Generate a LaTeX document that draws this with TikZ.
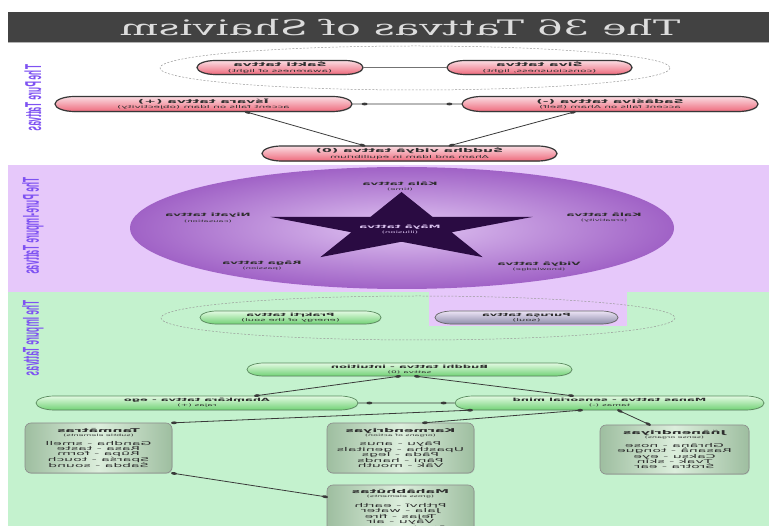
\documentclass[tikz,border=0pt]{standalone}
\usepackage{fontspec}
\usepackage{graphicx}
\usetikzlibrary{shapes.misc,shadows,decorations.markings}

\newfontfamily\nodefont{DejaVu Sans}
\newfontfamily\headfont{DejaVu Serif}
\newfontfamily\sidefont{Liberation Sans}

\definecolor{barbg}{HTML}{424242}
\definecolor{bartext}{HTML}{DCDCDC}
\definecolor{lav}{HTML}{E6C8FA}
\definecolor{mint}{HTML}{C4F2CE}
\definecolor{sidecol}{HTML}{7E52F2}
\definecolor{pinktop}{HTML}{FADCE2}
\definecolor{pinkbot}{HTML}{EE6A7C}
\definecolor{greentop}{HTML}{E2FAE2}
\definecolor{greenbot}{HTML}{72D276}
\definecolor{greenline}{HTML}{5A8A5E}
\definecolor{soultop}{HTML}{ECE4F6}
\definecolor{soulbot}{HTML}{8E8CAA}
\definecolor{boxedge}{HTML}{9EBEA0}
\definecolor{boxmid}{HTML}{DCEEDC}
\definecolor{starcol}{HTML}{2A0B42}
\definecolor{ellin}{HTML}{E0C4F2}
\definecolor{ellout}{HTML}{A062C6}
\definecolor{wire}{HTML}{3A3A3A}
\definecolor{inktext}{HTML}{2E2E2E}
\definecolor{mayatext}{HTML}{D9C2EE}

% small second line inside a node
\newcommand\smallnote[2]{{\mdseries\fontsize{#1}{#1}\selectfont #2}}

\tikzset{
  % all lettering is mirrored and flattened
  flat/.style={xscale=-1, yscale=#1},
  flat/.default=0.38,
  purenode/.style={flat, rounded rectangle, inner sep=0pt, align=center,
    draw=black!78, line width=1.2pt, top color=pinktop, bottom color=pinkbot,
    drop shadow={opacity=0.4, shadow xshift=0.5pt, shadow yshift=-0.8pt},
    font=\nodefont\bfseries\fontsize{14}{14.5}\selectfont, text=inktext},
  impnode/.style={flat, rounded rectangle, inner sep=0pt, align=center,
    draw=greenline, line width=0.7pt, top color=greentop, bottom color=greenbot,
    drop shadow={opacity=0.25, shadow xshift=0.4pt, shadow yshift=-0.6pt},
    font=\nodefont\bfseries\fontsize{11.5}{13}\selectfont, text=inktext},
  soulnode/.style={impnode, draw=black!60, top color=soultop, bottom color=soulbot},
  listbox/.style={flat, rectangle, rounded corners=6pt, inner sep=0pt, align=center,
    draw=black!45, line width=0.6pt, left color=boxedge, right color=boxedge, middle color=boxmid,
    drop shadow={opacity=0.3, shadow xshift=0.6pt, shadow yshift=-0.8pt},
    minimum width=147pt, minimum height=131.6pt,
    font=\nodefont\fontsize{14}{13.2}\selectfont, text=inktext},
  starlabel/.style={flat, inner sep=0pt, align=center,
    font=\nodefont\bfseries\fontsize{12}{13.5}\selectfont, text=inktext},
  sidelabel/.style={xscale=-1, rotate=-90, xscale=0.36, inner sep=0pt,
    font=\sidefont\bfseries\fontsize{23}{23}\selectfont, text=sidecol},
  ring/.style={draw=black!40, line width=0.5pt, dash pattern=on 2pt off 1.6pt},
  link/.style={draw=wire, line width=0.8pt},
  tipdots/.style={postaction={decorate, decoration={markings,
      mark=at position #1 with {\fill[wire] (0,0) ellipse (3pt and 1.4pt);},
      mark=at position -#1 with {\fill[wire] (0,0) ellipse (3pt and 1.4pt);}}}},
}

\begin{document}
\begin{tikzpicture}[x=1pt, y=-1pt]
\useasboundingbox (0,0) rectangle (769,526);
\clip (0,0) rectangle (769,526);
\fill[white] (0,0) rectangle (769,526);

% coloured bands
\fill[lav] (8,165) rectangle (769,292);
\fill[mint] (8,292) rectangle (769,526);
\fill[lav] (429,292) rectangle (627,326);

% heading
\fill[barbg] (8,12) rectangle (769,42);
\draw[black!30, line width=1pt] (8,42.5) -- (769,42.5);
\node[flat=0.52, inner sep=0pt, font=\headfont\fontsize{41}{41}\selectfont, text=bartext]
  (heading) at (400,28) {The 36 Tattvas of Shaivism};

% band labels
\node[sidelabel] (lab1) at (33,98) {The Pure Tattvas};
\node[sidelabel] (lab2) at (33,226) {The Pure-Impure Tattvas};
\node[sidelabel] (lab3) at (33,338) {The Impure Tattvas};

% dashed groupings
\draw[ring] (415,68) ellipse (255 and 22);
\draw[ring] (418,318) ellipse (257 and 22);

% the maya disc and star
\shade[inner color=ellin, outer color=ellout] (402,228) ellipse (272 and 61);
\begin{scope}[shift={(401.5,228)}]
  \begin{scope}[x=138pt, y=36pt]
    \fill[starcol] (90:1) -- (126:0.382) -- (162:1) -- (198:0.382) -- (234:1)
      -- (270:0.382) -- (306:1) -- (342:0.382) -- (18:1) -- (54:0.382) -- cycle;
  \end{scope}
\end{scope}

% pure tattvas
\node[purenode, minimum width=166pt, minimum height=36.8pt] (sakti) at (280,67.5)
  {Śakti tattva\\\smallnote{10.5}{(awareness of light)}};
\node[purenode, minimum width=185pt, minimum height=36.8pt] (siva) at (539.5,67.5)
  {Śiva tattva\\\smallnote{10.5}{(consciousness, light)}};
\node[purenode, minimum width=297pt, minimum height=39.5pt] (isvara) at (203.5,104)
  {Īśvara tattva (+)\\\smallnote{10.5}{accent falls on Idam (objectivity)}};
\node[purenode, minimum width=296pt, minimum height=39.5pt] (sadasiva) at (610,104)
  {Sadāśiva tattva (-)\\\smallnote{10.5}{accent falls on Aham (Self)}};
\node[purenode, minimum width=295pt, minimum height=39.5pt] (suddha) at (409.5,153.5)
  {Śuddha vidyā tattva (0)\\\smallnote{10.5}{Aham and Idam in equilibrium}};

% pure-impure tattvas
\node[starlabel] (kala) at (400,186.5) {Kāla tattva\\\smallnote{8.5}{(time)}};
\node[starlabel] (niyati) at (208,218) {Niyati tattva\\\smallnote{8.5}{(causation)}};
\node[starlabel] (kalaa) at (604,218) {Kalā tattva\\\smallnote{8.5}{(creativity)}};
\node[starlabel] (raga) at (262,266) {Rāga tattva\\\smallnote{8.5}{(passion)}};
\node[starlabel] (vidya) at (539,266.5) {Vidyā tattva\\\smallnote{8.5}{(knowledge)}};
\node[starlabel, text=mayatext] (maya) at (400,229.5) {Māyā tattva\\\smallnote{8.5}{(illusion)}};

% impure tattvas
\node[impnode, minimum width=181pt, minimum height=34.2pt] (prakrti) at (290.5,317.5)
  {Prakṛti tattva\\\smallnote{10}{(energy of the soul)}};
\node[soulnode, minimum width=183pt, minimum height=34.2pt] (purusa) at (526.5,317.5)
  {Puruṣa tattva\\\smallnote{10}{(soul)}};
\node[impnode, minimum width=325pt, minimum height=34.2pt] (buddhi) at (409.5,369.5)
  {Buddhi tattva - intuition\\\smallnote{9}{sattva (0)}};
\node[impnode, minimum width=322pt, minimum height=36.8pt] (ahamkara) at (197,403)
  {Ahaṃkāra tattva - ego\\\smallnote{9}{rajas (+)}};
\node[impnode, minimum width=309pt, minimum height=36.8pt] (manas) at (609.5,403)
  {Manas tattva - sensorial mind\\\smallnote{9}{tamas (-)}};

\node[listbox] (tanm) at (98.5,448)
  {\textbf{Tanmātras}\\[-3pt]\smallnote{8}{(subtle elements)}\\[12pt]Gandha - smell\\Rasa - taste\\Rūpa - form\\Sparśa - touch\\Śabda - sound};
\node[listbox] (karm) at (400.5,448)
  {\textbf{Karmendriyas}\\[-3pt]\smallnote{8}{(organs of action)}\\[12pt]Pāyu - anus\\Upastha - genitals\\Pāda - legs\\Pāṇi - hands\\Vāk - mouth};
\node[listbox] (mahab) at (400.5,510)
  {\textbf{Mahābhūtas}\\[-3pt]\smallnote{8}{(gross elements)}\\[12pt]Pṛthvī - earth\\Jala - water\\Tejas - fire\\Vāyu - air\\Ākāśa - ether};
\node[listbox, minimum width=149pt, minimum height=129pt] (jnan) at (674.5,449.5)
  {\textbf{Jñānendriyas}\\[-3pt]\smallnote{8}{(sense organs)}\\[12pt]Ghrāṇa - nose\\Rasanā - tongue\\Cakṣu - eye\\Tvak - skin\\Śrotra - ear};

% connectors
\draw[link, draw=black!55, line width=0.6pt] (sakti) -- (siva);
\draw[link, tipdots=12pt] (isvara) -- (sadasiva);
\draw[link, tipdots=2pt] ([xshift=42pt]isvara.south) -- ([xshift=-45pt]suddha.north);
\draw[link, tipdots=2pt] ([xshift=-35pt]sadasiva.south) -- ([xshift=40pt]suddha.north);

\draw[link, tipdots=2pt] ([xshift=-9.5pt]buddhi.south) -- ([xshift=58pt]ahamkara.north);
\draw[link, tipdots=2pt] ([xshift=5.5pt]buddhi.south) -- ([xshift=-36.5pt]manas.north);
\draw[link, tipdots=11pt] (ahamkara) -- (manas);
\draw[link, tipdots=2pt] ([xshift=-137.5pt]manas.south) -- ([xshift=73.5pt]tanm.north);
\draw[link, tipdots=2pt] ([xshift=-27.5pt]manas.south) -- ([xshift=22.5pt]karm.north);
\draw[link, tipdots=2pt] ([xshift=8.5pt]manas.south) -- ([xshift=-24.5pt]jnan.north);
\draw[link, tipdots=2pt] ([xshift=73.5pt]tanm.south) -- ([xshift=-73.5pt,yshift=13pt]mahab.center);
\end{tikzpicture}
\end{document}
